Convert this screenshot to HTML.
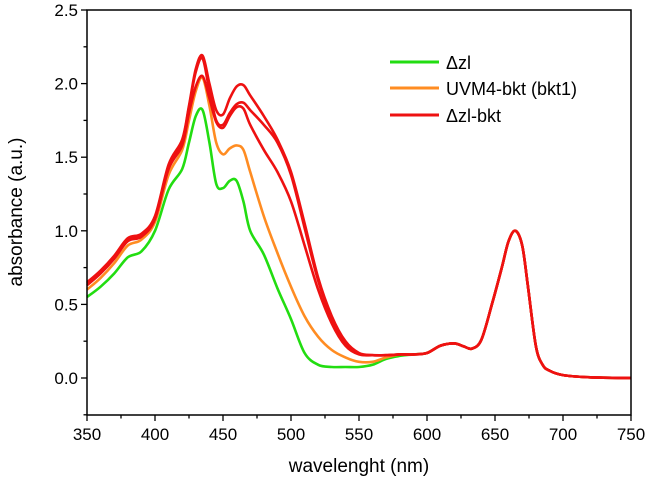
<!DOCTYPE html>
<html><head><meta charset="utf-8"><style>
html,body{margin:0;padding:0;background:#fff;}
svg{display:block;font-family:"Liberation Sans",Arial,sans-serif;}
</style></head><body>
<svg id="chart" width="654" height="486"></svg>
<script>
const wavelengths=[350,360,370,380,390,400,410,420,425,430,435,440,445,450,455,460,465,470,480,490,500,510,520,530,540,550,560,570,580,590,600,610,620,627,633,640,648,655,660,665,670,674,680,685,690,700,720,750];
const tail=[0.17,0.22,0.235,0.215,0.2,0.26,0.51,0.75,0.93,1.0,0.9,0.64,0.22,0.09,0.05,0.02,0.005,0];
const greenVals=[0.55,0.62,0.71,0.82,0.86,1.0,1.28,1.42,1.6,1.78,1.82,1.6,1.32,1.29,1.34,1.34,1.2,1.0,0.84,0.61,0.4,0.17,0.09,0.075,0.075,0.075,0.09,0.13,0.15,0.16].concat(tail);
const orangeVals=[0.6,0.68,0.78,0.9,0.94,1.06,1.38,1.55,1.75,1.95,2.04,1.85,1.6,1.52,1.56,1.58,1.55,1.4,1.1,0.85,0.62,0.42,0.28,0.19,0.14,0.11,0.11,0.14,0.16,0.16].concat(tail);
const redTopVals=[0.65,0.73,0.83,0.95,0.98,1.1,1.45,1.62,1.85,2.1,2.19,2.0,1.82,1.79,1.9,1.98,1.99,1.92,1.78,1.62,1.4,1.05,0.68,0.42,0.25,0.17,0.155,0.155,0.16,0.16].concat(tail);
const redMidVals=[0.64,0.72,0.82,0.94,0.97,1.09,1.44,1.61,1.84,2.08,2.17,1.95,1.75,1.72,1.8,1.86,1.87,1.82,1.72,1.6,1.38,1.02,0.66,0.4,0.23,0.165,0.155,0.155,0.16,0.16].concat(tail);
const redLowVals=[0.63,0.71,0.81,0.93,0.96,1.08,1.42,1.58,1.8,1.98,2.05,1.9,1.74,1.7,1.78,1.84,1.83,1.72,1.55,1.4,1.2,0.9,0.6,0.37,0.22,0.16,0.155,0.155,0.16,0.16].concat(tail);
const xTicks=[350,400,450,500,550,600,650,700,750];
const yTicks=[0,0.5,1.0,1.5,2.0,2.5];
const yTickLabels=["0.0","0.5","1.0","1.5","2.0","2.5"];

const L=87,R=631,T=10,B=415;
const x=v=>L+(v-350)/400*(R-L);
const y=v=>378-v*147.2;
const NS="http://www.w3.org/2000/svg";
const svg=document.getElementById('chart');
function mk(tag,attrs,parent){const e=document.createElementNS(NS,tag);for(const k in attrs)e.setAttribute(k,attrs[k]);(parent||svg).appendChild(e);return e;}
function pathD(xs,ys){
  const p=xs.map((w,i)=>[x(w),y(ys[i])]);
  let d='M'+p[0][0].toFixed(1)+','+p[0][1].toFixed(1);
  for(let i=0;i<p.length-1;i++){
    const p0=p[Math.max(0,i-1)],p1=p[i],p2=p[i+1],p3=p[Math.min(p.length-1,i+2)];
    const c1=[p1[0]+(p2[0]-p0[0])/6,p1[1]+(p2[1]-p0[1])/6];
    const c2=[p2[0]-(p3[0]-p1[0])/6,p2[1]-(p3[1]-p1[1])/6];
    d+='C'+c1.map(v=>v.toFixed(1))+' '+c2.map(v=>v.toFixed(1))+' '+p2[0].toFixed(1)+','+p2[1].toFixed(1);
  }
  return d;
}
for(let v=350;v<=750;v+=25){
  const t=mk('line',{x1:x(v),x2:x(v),y1:B,y2:B+(v%50===0?6:3.5),stroke:'#000','stroke-width':1.3});
  
  
}
xTicks.forEach(v=>{
  const t=mk('text',{x:x(v),y:440,'text-anchor':'middle','font-size':17});
  t.textContent=v;
  
  
});
for(let v=-0.25;v<=2.5001;v+=0.25){
  const t=mk('line',{x1:L,x2:L-(Math.abs(v*2-Math.round(v*2))<0.01?6:3.5),y1:y(v),y2:y(v),stroke:'#000','stroke-width':1.3});
  
  
}
yTicks.forEach((v,i)=>{
  const t=mk('text',{x:L-9,y:y(v)+6,'text-anchor':'end','font-size':17});
  t.textContent=yTickLabels[i];
  
  
});
const series=[[greenVals,'#22dd11','series-dzl'],[orangeVals,'#ff8c22','series-uvm4-bkt'],[redLowVals,'#ee1111','series-dzl-bkt-1'],[redMidVals,'#ee1111','series-dzl-bkt-2'],[redTopVals,'#ee1111','series-dzl-bkt-3']];
series.forEach(s=>{
  const p=mk('path',{d:pathD(wavelengths,s[0]),fill:'none',stroke:s[1],'stroke-width':2.6,'stroke-linejoin':'round'});
  
  
});
const f=mk('rect',{x:L,y:T,width:R-L,height:B-T,fill:'none',stroke:'#000','stroke-width':1.5});


const leg=[['\u0394zl','#22dd11',62],['UVM4-bkt (bkt1)','#ff8c22',88],['\u0394zl-bkt','#ee1111',115]];
leg.forEach(l=>{
  const ln=mk('line',{x1:390,x2:439,y1:l[2],y2:l[2],stroke:l[1],'stroke-width':3});
  
  
  const t=mk('text',{x:446,y:l[2]+7,'font-size':18});
  t.textContent=l[0];
  
  
});
const xt=mk('text',{x:359,y:472,'text-anchor':'middle','font-size':19});
xt.textContent='wavelenght (nm)';


const yt=mk('text',{x:0,y:0,'text-anchor':'middle','font-size':19,transform:'translate(22,212) rotate(-90)'});
yt.textContent='absorbance (a.u.)';


</script>
</body></html>
